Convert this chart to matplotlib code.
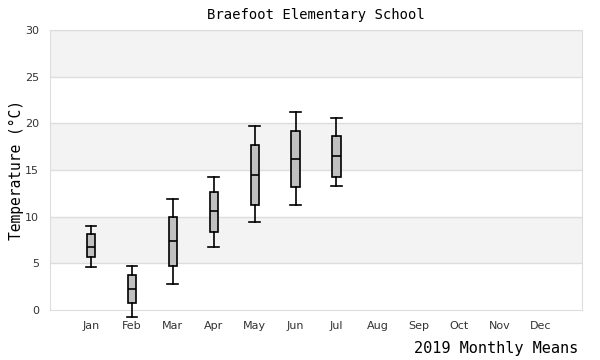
import matplotlib
matplotlib.use("Agg")
import matplotlib.pyplot as plt

months = ["Jan", "Feb", "Mar", "Apr", "May", "Jun", "Jul", "Aug", "Sep", "Oct", "Nov", "Dec"]
# five-number summaries (whisker low, Q1, median, Q3, whisker high), Jan-Jul
lo  = [4.6, -0.7, 2.75, 6.75, 9.45, 11.2, 13.25]
q1  = [5.65, 0.7, 4.7, 8.35, 11.25, 13.15, 14.3]
med = [6.8, 2.2, 7.35, 10.6, 14.45, 16.15, 16.45]
q3  = [8.1, 3.7, 10.0, 12.6, 17.65, 19.15, 18.6]
hi  = [9.0, 4.75, 11.9, 14.2, 19.7, 21.2, 20.55]

fig = plt.figure(figsize=(6, 3.6), dpi=100)
ax = fig.add_axes([50 / 600, 50 / 360, 532 / 600, 280 / 360])

# alternating bands
for b in range(0, 30, 5):
    if (b // 5) % 2 == 1:
        ax.axhspan(b, b + 5, color="#f3f3f3", zorder=0, lw=0)
for y in range(5, 31, 5):
    ax.axhline(y, color="#dddddd", lw=1, zorder=0.5)

stats = []
for i in range(len(lo)):
    stats.append({"whislo": lo[i], "q1": q1[i], "med": med[i], "q3": q3[i], "whishi": hi[i], "fliers": []})

parts = ax.bxp(stats, positions=list(range(1, len(lo) + 1)), widths=0.2, patch_artist=True,
               showfliers=False,
               boxprops=dict(facecolor="#c0c0c0", edgecolor="black", lw=1.2),
               medianprops=dict(color="black", lw=1.2),
               whiskerprops=dict(color="black", lw=1.2),
               capprops=dict(color="black", lw=1.2), capwidths=0.26, zorder=3)
for k in ("whiskers", "caps", "boxes", "medians"):
    for art in parts[k]:
        art.set_clip_on(False)

ax.set_xlim(0, 13)
ax.set_ylim(0, 30)
ax.set_xticks(range(1, 13))
ax.set_xticklabels(months)
ax.set_yticks(range(0, 31, 5))
ax.tick_params(length=0, labelsize=8, colors="#333333", pad=8)
for s in ax.spines.values():
    s.set_color("#dddddd")

mono = "DejaVu Sans Mono"
ax.set_title("Braefoot Elementary School", family=mono, fontsize=10, pad=8)
fig.text(16 / 600, 1 - 170 / 360, "Temperature (\u00b0C)", family=mono, fontsize=10.5,
         rotation=90, ha="center", va="center")
fig.text(578 / 600, 1 - 348 / 360, "2019 Monthly Means", family=mono, fontsize=11,
         ha="right", va="center")

fig.savefig("out.png", dpi=100)
